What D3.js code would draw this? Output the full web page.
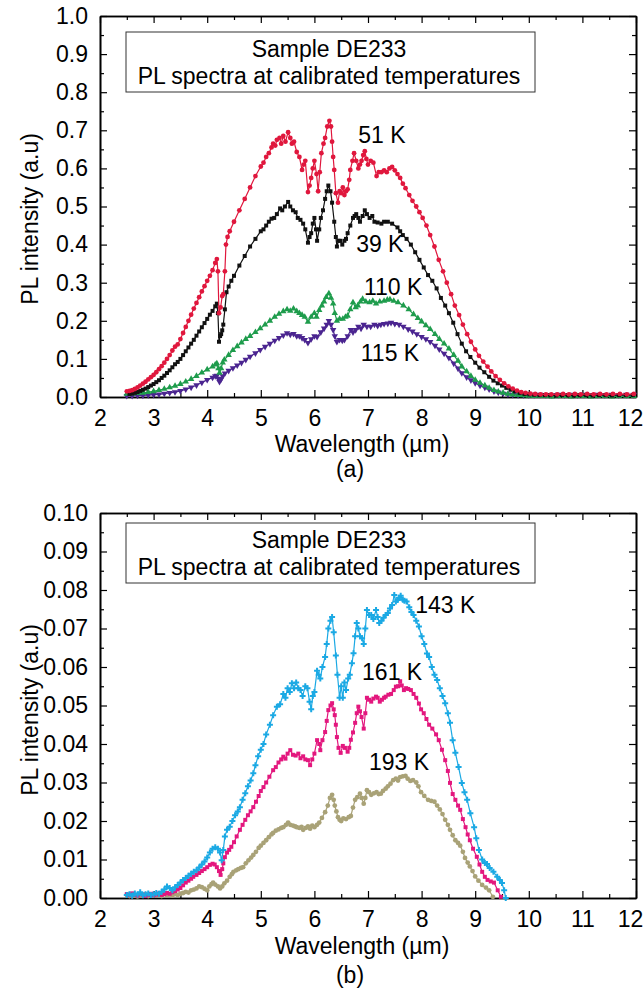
<!DOCTYPE html>
<html>
<head>
<meta charset="utf-8">
<script src="https://cdn.jsdelivr.net/npm/d3@7"></script>
<style>
  body { margin: 0; background: #fff; }
  svg text { font-family: "Liberation Sans", Arial, Helvetica, sans-serif; fill: #000; }
</style>
</head>
<body>
<div id="chart"></div>
<script>
// ---- data: [wavelength (um), PL intensity (a.u)] ----

const xTicks = [2, 3, 4, 5, 6, 7, 8, 9, 10, 11, 12];
const xMinorTicks = [2.5, 3.5, 4.5, 5.5, 6.5, 7.5, 8.5, 9.5, 10.5, 11.5];
const yTicksA = [0, 0.1, 0.2, 0.3, 0.4, 0.5, 0.6, 0.7, 0.8, 0.9, 1.0];
const yTicksB = [0, 0.01, 0.02, 0.03, 0.04, 0.05, 0.06, 0.07, 0.08, 0.09, 0.1];
const legendLines = ["Sample DE233", "PL spectra at calibrated temperatures"];

// panel (a)
const pl51K = [[2.5,0.015],[2.55,0.016],[2.6,0.018],[2.65,0.021],[2.7,0.025],[2.75,0.03],[2.8,0.035],[2.85,0.04],[2.9,0.046],[2.95,0.052],[3.0,0.058],[3.05,0.065],[3.1,0.073],[3.15,0.081],[3.2,0.09],[3.25,0.1],[3.3,0.11],[3.35,0.122],[3.4,0.132],[3.45,0.138],[3.5,0.152],[3.55,0.168],[3.6,0.184],[3.65,0.2],[3.7,0.216],[3.75,0.232],[3.8,0.247],[3.85,0.262],[3.9,0.277],[3.95,0.291],[4.0,0.305],[4.05,0.318],[4.1,0.333],[4.15,0.352],[4.18,0.362],[4.2,0.33],[4.22,0.22],[4.25,0.235],[4.28,0.265],[4.3,0.27],[4.33,0.33],[4.35,0.4],[4.38,0.42],[4.42,0.435],[4.5,0.46],[4.6,0.49],[4.7,0.52],[4.8,0.55],[4.9,0.58],[5.0,0.605],[5.05,0.615],[5.1,0.63],[5.15,0.64],[5.2,0.655],[5.23,0.665],[5.27,0.66],[5.3,0.675],[5.35,0.68],[5.38,0.665],[5.42,0.685],[5.46,0.67],[5.51,0.695],[5.55,0.68],[5.58,0.665],[5.62,0.67],[5.67,0.643],[5.72,0.63],[5.77,0.596],[5.8,0.61],[5.83,0.62],[5.88,0.538],[5.91,0.555],[5.94,0.575],[5.97,0.6],[6.0,0.62],[6.04,0.585],[6.07,0.54],[6.1,0.59],[6.13,0.64],[6.17,0.665],[6.2,0.68],[6.24,0.71],[6.28,0.725],[6.31,0.71],[6.33,0.67],[6.35,0.63],[6.37,0.596],[6.4,0.535],[6.44,0.51],[6.47,0.54],[6.5,0.535],[6.53,0.55],[6.56,0.53],[6.59,0.54],[6.62,0.545],[6.65,0.57],[6.67,0.596],[6.71,0.62],[6.74,0.64],[6.78,0.62],[6.82,0.6],[6.85,0.61],[6.88,0.62],[6.91,0.635],[6.94,0.645],[6.97,0.625],[7.0,0.61],[7.05,0.62],[7.1,0.615],[7.16,0.58],[7.2,0.59],[7.25,0.59],[7.3,0.595],[7.35,0.59],[7.4,0.6],[7.45,0.604],[7.5,0.595],[7.55,0.585],[7.6,0.575],[7.65,0.56],[7.7,0.548],[7.77,0.53],[7.83,0.515],[7.9,0.5],[7.96,0.485],[8.02,0.47],[8.09,0.45],[8.16,0.425],[8.24,0.395],[8.32,0.36],[8.4,0.33],[8.47,0.3],[8.55,0.27],[8.62,0.24],[8.7,0.215],[8.77,0.19],[8.85,0.165],[8.92,0.145],[9.0,0.125],[9.07,0.108],[9.15,0.093],[9.23,0.08],[9.3,0.067],[9.38,0.055],[9.46,0.045],[9.54,0.036],[9.62,0.028],[9.7,0.022],[9.78,0.017],[9.86,0.013],[9.94,0.011],[10.03,0.009],[10.12,0.008],[10.22,0.007],[10.32,0.007],[10.42,0.007],[10.53,0.007],[10.64,0.008],[10.75,0.007],[10.86,0.008],[10.97,0.007],[11.09,0.008],[11.21,0.007],[11.33,0.008],[11.45,0.007],[11.57,0.008],[11.7,0.008],[11.83,0.007],[11.96,0.008]];

const pl39K = [[2.55,0.008],[2.6,0.009],[2.65,0.011],[2.7,0.013],[2.75,0.016],[2.8,0.019],[2.85,0.022],[2.9,0.026],[2.95,0.03],[3.0,0.034],[3.05,0.039],[3.1,0.044],[3.15,0.05],[3.2,0.056],[3.25,0.063],[3.3,0.07],[3.35,0.078],[3.4,0.086],[3.45,0.092],[3.5,0.1],[3.55,0.11],[3.6,0.12],[3.65,0.13],[3.7,0.14],[3.75,0.15],[3.8,0.161],[3.85,0.172],[3.9,0.183],[3.95,0.194],[4.0,0.205],[4.05,0.216],[4.1,0.226],[4.15,0.238],[4.18,0.245],[4.2,0.22],[4.22,0.145],[4.24,0.16],[4.26,0.165],[4.28,0.175],[4.3,0.19],[4.33,0.23],[4.36,0.275],[4.4,0.29],[4.45,0.305],[4.5,0.318],[4.6,0.345],[4.7,0.37],[4.8,0.395],[4.9,0.415],[5.0,0.435],[5.05,0.44],[5.1,0.45],[5.15,0.46],[5.2,0.468],[5.25,0.47],[5.3,0.48],[5.36,0.495],[5.4,0.49],[5.45,0.5],[5.51,0.512],[5.55,0.5],[5.6,0.49],[5.65,0.485],[5.69,0.47],[5.74,0.465],[5.79,0.455],[5.83,0.44],[5.88,0.405],[5.91,0.42],[5.94,0.43],[5.97,0.455],[6.0,0.47],[6.03,0.44],[6.05,0.41],[6.09,0.44],[6.12,0.47],[6.16,0.49],[6.2,0.52],[6.23,0.54],[6.26,0.555],[6.3,0.54],[6.33,0.51],[6.37,0.46],[6.4,0.42],[6.42,0.395],[6.45,0.41],[6.48,0.41],[6.52,0.4],[6.56,0.41],[6.59,0.415],[6.62,0.43],[6.67,0.45],[6.72,0.47],[6.75,0.475],[6.78,0.48],[6.82,0.47],[6.85,0.46],[6.9,0.475],[6.94,0.49],[6.98,0.48],[7.03,0.47],[7.08,0.475],[7.12,0.46],[7.18,0.458],[7.25,0.455],[7.3,0.46],[7.37,0.46],[7.45,0.455],[7.55,0.445],[7.6,0.435],[7.65,0.425],[7.72,0.415],[7.8,0.4],[7.88,0.38],[7.96,0.36],[8.04,0.34],[8.12,0.32],[8.2,0.305],[8.28,0.285],[8.36,0.26],[8.44,0.24],[8.51,0.22],[8.59,0.195],[8.67,0.165],[8.75,0.14],[8.83,0.12],[8.91,0.105],[9.0,0.09],[9.08,0.077],[9.17,0.065],[9.26,0.053],[9.34,0.043],[9.42,0.036],[9.5,0.03],[9.58,0.024],[9.66,0.019],[9.74,0.015],[9.83,0.011],[9.92,0.008],[10.01,0.007],[10.1,0.006],[10.2,0.005],[10.3,0.005],[10.4,0.005],[10.51,0.004],[10.62,0.005],[10.73,0.005],[10.84,0.004],[10.95,0.005],[11.07,0.005],[11.19,0.004],[11.31,0.005],[11.43,0.005],[11.55,0.004],[11.68,0.005],[11.81,0.005],[11.94,0.005]];

const pl110K = [[2.5,0.008],[2.6,0.009],[2.7,0.01],[2.8,0.011],[2.9,0.013],[3.0,0.015],[3.1,0.018],[3.2,0.021],[3.3,0.025],[3.4,0.029],[3.5,0.034],[3.6,0.04],[3.7,0.047],[3.8,0.055],[3.9,0.064],[4.0,0.072],[4.1,0.08],[4.15,0.085],[4.18,0.088],[4.21,0.075],[4.23,0.063],[4.26,0.075],[4.29,0.09],[4.32,0.098],[4.4,0.11],[4.48,0.123],[4.56,0.133],[4.64,0.143],[4.72,0.152],[4.8,0.16],[4.9,0.17],[4.99,0.18],[5.08,0.19],[5.17,0.2],[5.26,0.21],[5.34,0.218],[5.42,0.225],[5.49,0.23],[5.55,0.226],[5.61,0.232],[5.67,0.225],[5.72,0.22],[5.77,0.215],[5.82,0.21],[5.88,0.197],[5.94,0.21],[6.0,0.22],[6.04,0.21],[6.09,0.228],[6.14,0.24],[6.18,0.25],[6.22,0.262],[6.27,0.272],[6.31,0.26],[6.35,0.245],[6.38,0.22],[6.42,0.2],[6.47,0.205],[6.53,0.205],[6.58,0.21],[6.62,0.213],[6.67,0.23],[6.72,0.248],[6.77,0.235],[6.81,0.24],[6.86,0.25],[6.9,0.257],[6.96,0.25],[7.03,0.248],[7.09,0.252],[7.15,0.245],[7.22,0.25],[7.3,0.252],[7.36,0.255],[7.41,0.256],[7.48,0.252],[7.56,0.248],[7.66,0.24],[7.76,0.23],[7.85,0.217],[7.93,0.207],[8.0,0.198],[8.08,0.188],[8.16,0.178],[8.25,0.165],[8.33,0.152],[8.42,0.14],[8.51,0.127],[8.6,0.11],[8.68,0.095],[8.75,0.08],[8.84,0.067],[8.92,0.055],[9.0,0.045],[9.09,0.037],[9.18,0.03],[9.26,0.024],[9.35,0.018],[9.43,0.014],[9.52,0.011],[9.61,0.008],[9.7,0.006],[9.8,0.005],[9.9,0.004],[10.0,0.003],[10.1,0.002],[10.21,0.002],[10.32,0.002],[10.43,0.001],[10.55,0.002],[10.67,0.002],[10.79,0.001],[10.91,0.002],[11.03,0.002],[11.16,0.001],[11.29,0.002],[11.42,0.002],[11.55,0.001],[11.68,0.002],[11.82,0.002],[11.96,0.002]];

const pl115K = [[2.5,0.003],[2.6,0.003],[2.7,0.004],[2.8,0.004],[2.9,0.005],[3.0,0.006],[3.1,0.007],[3.2,0.009],[3.3,0.011],[3.4,0.013],[3.5,0.016],[3.6,0.02],[3.7,0.025],[3.8,0.031],[3.9,0.038],[4.0,0.045],[4.1,0.051],[4.15,0.055],[4.18,0.056],[4.21,0.048],[4.23,0.04],[4.26,0.047],[4.29,0.055],[4.33,0.062],[4.4,0.069],[4.48,0.076],[4.56,0.083],[4.64,0.09],[4.72,0.098],[4.8,0.106],[4.9,0.115],[4.99,0.124],[5.08,0.132],[5.17,0.14],[5.26,0.148],[5.34,0.155],[5.42,0.162],[5.49,0.168],[5.55,0.164],[5.61,0.166],[5.67,0.16],[5.72,0.16],[5.77,0.155],[5.82,0.15],[5.88,0.142],[5.94,0.152],[6.0,0.16],[6.05,0.158],[6.12,0.17],[6.18,0.18],[6.23,0.19],[6.27,0.2],[6.31,0.19],[6.35,0.176],[6.38,0.16],[6.42,0.145],[6.47,0.15],[6.52,0.148],[6.56,0.15],[6.62,0.16],[6.68,0.176],[6.72,0.17],[6.77,0.176],[6.82,0.185],[6.87,0.18],[6.92,0.19],[6.98,0.185],[7.05,0.185],[7.12,0.19],[7.18,0.187],[7.24,0.19],[7.3,0.192],[7.37,0.193],[7.43,0.195],[7.5,0.192],[7.58,0.19],[7.66,0.185],[7.75,0.178],[7.83,0.172],[7.91,0.165],[8.0,0.158],[8.08,0.152],[8.16,0.145],[8.25,0.135],[8.33,0.125],[8.42,0.114],[8.51,0.103],[8.6,0.088],[8.68,0.075],[8.75,0.063],[8.84,0.052],[8.92,0.044],[9.0,0.037],[9.09,0.03],[9.18,0.025],[9.26,0.02],[9.35,0.015],[9.43,0.012],[9.52,0.009],[9.61,0.007],[9.7,0.006],[9.8,0.005],[9.9,0.005],[10.0,0.005],[10.1,0.005],[10.21,0.006],[10.32,0.005],[10.43,0.005],[10.55,0.006],[10.67,0.005],[10.79,0.006],[10.91,0.005],[11.03,0.006],[11.16,0.005],[11.29,0.006],[11.42,0.005],[11.55,0.006],[11.68,0.005],[11.82,0.006],[11.96,0.006]];

// panel (b)
const pl143K = [[2.5,0.0008],[2.55,0.001],[2.6,0.0006],[2.65,0.0012],[2.7,0.0009],[2.75,0.0015],[2.8,0.0007],[2.85,0.001],[2.9,0.0012],[2.95,0.0008],[3.0,0.001],[3.05,0.0013],[3.1,0.0011],[3.15,0.0016],[3.2,0.0022],[3.25,0.003],[3.3,0.0026],[3.35,0.002],[3.4,0.0028],[3.45,0.0034],[3.5,0.004],[3.55,0.0047],[3.6,0.0052],[3.65,0.0058],[3.7,0.0063],[3.75,0.0068],[3.8,0.0072],[3.85,0.0079],[3.9,0.0087],[3.95,0.0095],[4.0,0.0105],[4.05,0.0118],[4.1,0.0128],[4.15,0.0132],[4.2,0.0128],[4.24,0.0118],[4.27,0.0098],[4.3,0.0125],[4.33,0.016],[4.37,0.0177],[4.42,0.0185],[4.47,0.02],[4.52,0.0215],[4.57,0.0225],[4.61,0.0236],[4.66,0.0255],[4.71,0.0272],[4.76,0.029],[4.81,0.0305],[4.86,0.0324],[4.9,0.0345],[4.95,0.0368],[5.0,0.0385],[5.05,0.04],[5.1,0.0425],[5.17,0.045],[5.23,0.0475],[5.3,0.0497],[5.36,0.0503],[5.42,0.053],[5.46,0.052],[5.5,0.0545],[5.54,0.0535],[5.58,0.0558],[5.62,0.0545],[5.66,0.056],[5.7,0.0545],[5.74,0.054],[5.78,0.0525],[5.83,0.055],[5.87,0.0545],[5.91,0.051],[5.94,0.049],[5.97,0.0525],[6.0,0.0535],[6.05,0.059],[6.08,0.058],[6.11,0.057],[6.15,0.06],[6.2,0.0626],[6.23,0.066],[6.26,0.07],[6.3,0.072],[6.33,0.073],[6.36,0.069],[6.4,0.063],[6.43,0.058],[6.47,0.052],[6.5,0.055],[6.53,0.052],[6.56,0.056],[6.59,0.054],[6.63,0.057],[6.66,0.058],[6.7,0.061],[6.73,0.0636],[6.76,0.068],[6.79,0.0714],[6.82,0.07],[6.85,0.068],[6.89,0.0675],[6.92,0.066],[6.95,0.07],[6.98,0.0748],[7.02,0.0735],[7.06,0.0735],[7.1,0.0725],[7.15,0.0748],[7.18,0.073],[7.21,0.0714],[7.25,0.072],[7.29,0.0728],[7.33,0.0735],[7.37,0.074],[7.41,0.0752],[7.45,0.0761],[7.49,0.0787],[7.52,0.077],[7.55,0.0774],[7.58,0.078],[7.61,0.0785],[7.65,0.0775],[7.68,0.0772],[7.72,0.077],[7.77,0.0755],[7.81,0.0743],[7.85,0.0735],[7.9,0.072],[7.95,0.0705],[8.0,0.068],[8.05,0.066],[8.1,0.0635],[8.14,0.0626],[8.19,0.06],[8.24,0.058],[8.29,0.0566],[8.34,0.0545],[8.39,0.0525],[8.44,0.0506],[8.49,0.048],[8.53,0.0455],[8.58,0.041],[8.63,0.0377],[8.69,0.034],[8.75,0.0299],[8.8,0.0275],[8.85,0.0255],[8.91,0.022],[8.98,0.0184],[9.02,0.0155],[9.07,0.0125],[9.13,0.01],[9.18,0.0091],[9.22,0.0088],[9.27,0.0078],[9.34,0.0068],[9.41,0.0055],[9.46,0.0047],[9.5,0.0039],[9.54,0.002],[9.57,0.0]];

const pl161K = [[2.5,0.001],[2.55,0.0007],[2.6,0.0012],[2.65,0.0008],[2.7,0.0006],[2.75,0.001],[2.8,0.0009],[2.85,0.0005],[2.9,0.0008],[2.95,0.0011],[3.0,0.0007],[3.05,0.0009],[3.1,0.0012],[3.15,0.0008],[3.2,0.001],[3.25,0.0013],[3.3,0.0011],[3.35,0.0015],[3.4,0.0018],[3.45,0.0022],[3.5,0.0026],[3.55,0.0033],[3.6,0.004],[3.65,0.0045],[3.7,0.005],[3.74,0.0055],[3.8,0.006],[3.85,0.0065],[3.9,0.007],[3.95,0.0075],[4.0,0.008],[4.05,0.0086],[4.1,0.0089],[4.14,0.0087],[4.18,0.008],[4.22,0.007],[4.25,0.006],[4.28,0.0075],[4.3,0.009],[4.33,0.0106],[4.37,0.0118],[4.41,0.0125],[4.45,0.0133],[4.5,0.0145],[4.55,0.016],[4.61,0.0177],[4.66,0.019],[4.71,0.0203],[4.76,0.0215],[4.81,0.0225],[4.86,0.0236],[4.91,0.025],[4.96,0.0265],[5.0,0.0278],[5.05,0.0288],[5.1,0.03],[5.16,0.0315],[5.23,0.0332],[5.28,0.034],[5.33,0.0352],[5.38,0.036],[5.42,0.0367],[5.46,0.0362],[5.5,0.0375],[5.55,0.0384],[5.6,0.0372],[5.65,0.037],[5.7,0.0375],[5.74,0.0363],[5.79,0.0368],[5.83,0.036],[5.88,0.0358],[5.92,0.0345],[5.96,0.036],[6.0,0.0375],[6.05,0.041],[6.09,0.04],[6.11,0.0384],[6.15,0.041],[6.2,0.0431],[6.23,0.046],[6.26,0.0488],[6.3,0.05],[6.33,0.0506],[6.36,0.049],[6.38,0.0475],[6.4,0.045],[6.42,0.0418],[6.45,0.039],[6.49,0.0377],[6.53,0.0395],[6.57,0.039],[6.62,0.038],[6.65,0.039],[6.68,0.0411],[6.72,0.043],[6.76,0.0455],[6.79,0.048],[6.82,0.0497],[6.85,0.0485],[6.88,0.047],[6.92,0.044],[6.95,0.048],[6.98,0.052],[7.02,0.0515],[7.06,0.051],[7.1,0.0518],[7.15,0.0523],[7.18,0.052],[7.22,0.051],[7.26,0.0515],[7.3,0.052],[7.33,0.0523],[7.38,0.0528],[7.43,0.053],[7.48,0.054],[7.52,0.0549],[7.56,0.055],[7.6,0.0563],[7.63,0.0552],[7.67,0.054],[7.71,0.0545],[7.75,0.0543],[7.8,0.054],[7.85,0.053],[7.9,0.052],[7.95,0.0505],[7.99,0.049],[8.04,0.048],[8.09,0.0465],[8.14,0.045],[8.2,0.044],[8.27,0.0425],[8.32,0.041],[8.38,0.0385],[8.44,0.0358],[8.49,0.033],[8.53,0.0299],[8.58,0.027],[8.63,0.0255],[8.68,0.024],[8.72,0.0229],[8.77,0.0205],[8.82,0.0184],[8.86,0.0165],[8.9,0.015],[8.96,0.0128],[9.03,0.0107],[9.08,0.0087],[9.13,0.0068],[9.18,0.0055],[9.23,0.0047],[9.29,0.0043],[9.35,0.004],[9.42,0.002],[9.48,0.0003]];

const pl193K = [[2.5,0.0008],[2.55,0.0005],[2.6,0.001],[2.65,0.0007],[2.7,0.0004],[2.75,0.0009],[2.8,0.0006],[2.85,0.001],[2.9,0.0005],[2.95,0.0008],[3.0,0.0006],[3.05,0.0009],[3.1,0.0007],[3.15,0.0005],[3.2,0.001],[3.25,0.0007],[3.3,0.0009],[3.35,0.0006],[3.4,0.001],[3.45,0.0008],[3.5,0.0011],[3.55,0.0013],[3.6,0.0016],[3.65,0.0014],[3.7,0.002],[3.75,0.0022],[3.8,0.0025],[3.85,0.003],[3.9,0.0028],[3.95,0.0024],[4.0,0.002],[4.04,0.003],[4.08,0.0036],[4.11,0.004],[4.15,0.0035],[4.2,0.003],[4.24,0.0025],[4.28,0.003],[4.32,0.0038],[4.37,0.0045],[4.42,0.0055],[4.46,0.0062],[4.49,0.0068],[4.54,0.0072],[4.58,0.0075],[4.63,0.0078],[4.67,0.008],[4.72,0.009],[4.77,0.0098],[4.82,0.0105],[4.86,0.0112],[4.91,0.012],[4.96,0.013],[5.0,0.0136],[5.05,0.0143],[5.1,0.015],[5.15,0.0158],[5.2,0.0165],[5.23,0.0169],[5.28,0.0175],[5.33,0.0178],[5.38,0.0182],[5.42,0.0184],[5.47,0.019],[5.51,0.0196],[5.55,0.019],[5.6,0.0188],[5.64,0.0186],[5.67,0.0184],[5.72,0.0182],[5.76,0.0185],[5.79,0.0177],[5.84,0.0182],[5.88,0.0186],[5.92,0.018],[5.96,0.0188],[6.0,0.0184],[6.05,0.019],[6.09,0.0196],[6.14,0.0208],[6.2,0.0223],[6.25,0.024],[6.29,0.026],[6.33,0.0268],[6.36,0.0255],[6.38,0.024],[6.41,0.0225],[6.44,0.021],[6.47,0.0203],[6.5,0.02],[6.54,0.0207],[6.59,0.0205],[6.64,0.021],[6.68,0.0213],[6.72,0.0235],[6.76,0.0255],[6.8,0.0262],[6.85,0.0271],[6.88,0.026],[6.92,0.0245],[6.95,0.026],[6.98,0.028],[7.02,0.0275],[7.06,0.0268],[7.11,0.0272],[7.16,0.0275],[7.2,0.027],[7.24,0.0271],[7.28,0.0278],[7.33,0.0284],[7.37,0.029],[7.42,0.0297],[7.47,0.0306],[7.52,0.031],[7.56,0.0305],[7.6,0.0314],[7.65,0.0316],[7.7,0.0317],[7.74,0.031],[7.79,0.0304],[7.84,0.0306],[7.9,0.03],[7.94,0.029],[7.99,0.0275],[8.05,0.0265],[8.12,0.0255],[8.18,0.0252],[8.24,0.025],[8.29,0.024],[8.34,0.023],[8.39,0.0218],[8.44,0.0203],[8.49,0.019],[8.53,0.0177],[8.58,0.0163],[8.63,0.015],[8.68,0.0143],[8.72,0.0136],[8.77,0.012],[8.81,0.0104],[8.86,0.0092],[8.9,0.0082],[8.95,0.007],[9.0,0.0056],[9.06,0.0045],[9.13,0.0034],[9.2,0.0027],[9.26,0.002],[9.33,0.0003]];

// series labels: [text, wavelength, intensity] where the label sits (baseline, centred)
const labelsA = [["51 K", 7.26, 0.667], ["39 K", 7.22, 0.381], ["110 K", 7.47, 0.268], ["115 K", 7.41, 0.094]];
const labelsB = [["143 K", 8.44, 0.074], ["161 K", 7.45, 0.0566], ["193 K", 7.58, 0.0332]];

// ---- drawing ----
const W = 644, H = 992;
const fontSize = 23;

const svg = d3.select("#chart").append("svg").
  attr("width", W).
  attr("height", H);

const drawPanel = function (p) {
  const x = d3.scaleLinear().domain([2, 12]).range([100, 636]);
  const y = d3.scaleLinear().domain([0, p.yMax]).range([p.bottom, p.top]);
  const yMinor = p.yTicks.slice(0, -1).map(v => v + p.yMax / 20);

  const g = svg.append("g");

  // axes: ticks point inward on all four sides
  const axes = [
    [d3.axisBottom(x).tickValues(xTicks).tickSize(-7).tickPadding(13).tickFormat(d3.format("d")), `translate(0,${p.bottom})`],
    [d3.axisBottom(x).tickValues(xMinorTicks).tickSize(-4).tickFormat(""), `translate(0,${p.bottom})`],
    [d3.axisTop(x).tickValues(xTicks).tickSize(-7).tickFormat(""), `translate(0,${p.top})`],
    [d3.axisTop(x).tickValues(xMinorTicks).tickSize(-4).tickFormat(""), `translate(0,${p.top})`],
    [d3.axisLeft(y).tickValues(p.yTicks).tickSize(-7).tickPadding(12).tickFormat(d3.format(p.yFormat)), "translate(100,0)"],
    [d3.axisLeft(y).tickValues(yMinor).tickSize(-4).tickFormat(""), "translate(100,0)"],
    [d3.axisRight(y).tickValues(p.yTicks).tickSize(-7).tickFormat(""), "translate(636,0)"],
    [d3.axisRight(y).tickValues(yMinor).tickSize(-4).tickFormat(""), "translate(636,0)"]
  ];
  axes.forEach(([ax, tr]) => {
    const a = g.append("g").attr("transform", tr).call(ax.tickSizeOuter(0));
    a.attr("font-family", null).attr("font-size", null);
    a.select(".domain").attr("stroke", "#000").attr("stroke-width", 1.6);
    a.selectAll(".tick line").attr("stroke", "#000").attr("stroke-width", 1.2);
    a.selectAll(".tick text").style("font-size", `${fontSize}px`);
  });
  // the last x label sits tight against the right edge, as in the original
  g.selectAll(".tick text").filter(d => d === 12).attr("dx", -6);

  // legend box
  g.append("rect").
    attr("x", 126).
    attr("y", p.top + p.legendOffset).
    attr("width", 409).
    attr("height", 60).
    attr("fill", "#fff").
    attr("stroke", "#333").
    attr("stroke-width", 1);
  g.selectAll(".legend-line").
    data(legendLines).
    join("text").
    attr("x", 329).
    attr("y", (d, i) => p.top + p.legendOffset + 25 + i * 27).
    attr("text-anchor", "middle").
    style("font-size", `${fontSize}px`).
    text(d => d);

  // series: line + markers
  const line = d3.line().x(d => x(d[0])).y(d => y(d[1]));
  p.series.forEach(s => {
    g.append("path").
      datum(s.data).
      attr("d", line).
      attr("fill", "none").
      attr("stroke", s.color).
      attr("stroke-width", 1.2);
    const sym = d3.symbol().type(s.symbol).size(s.size);
    g.append("g").
      selectAll("path").
      data(s.data).
      join("path").
      attr("transform", d => `translate(${x(d[0])},${y(d[1])})${s.flip ? " rotate(180)" : ""}`).
      attr("d", sym).
      attr("fill", s.color);
  });

  // temperature labels
  g.selectAll(".temp-label").
    data(p.labels).
    join("text").
    attr("x", d => x(d[1])).
    attr("y", d => y(d[2])).
    attr("text-anchor", "middle").
    style("font-size", `${fontSize}px`).
    text(d => d[0]);

  // axis titles and caption
  g.append("text").
    attr("transform", `translate(38,${p.yTitleY}) rotate(-90)`).
    attr("text-anchor", "middle").
    style("font-size", `${fontSize}px`).
    text("PL intensity (a.u)");
  g.append("text").
    attr("x", 362).
    attr("y", p.bottom + p.xTitleGap).
    attr("text-anchor", "middle").
    style("font-size", `${fontSize}px`).
    text("Wavelength (\u00b5m)");
  g.append("text").
    attr("x", 350).
    attr("y", p.bottom + p.captionGap).
    attr("text-anchor", "middle").
    style("font-size", `${fontSize}px`).
    text(p.caption);
};

drawPanel({
  top: 16, bottom: 397, yMax: 1.0, yTicks: yTicksA, yFormat: ".1f",
  legendOffset: 16, yTitleY: 219, xTitleGap: 55, captionGap: 80, caption: "(a)",
  labels: labelsA,
  series: [
    { data: pl115K, color: "#4b2590", symbol: d3.symbolTriangle, size: 18, flip: true },
    { data: pl110K, color: "#1e9c4c", symbol: d3.symbolTriangle, size: 18 },
    { data: pl39K, color: "#111111", symbol: d3.symbolSquare, size: 16 },
    { data: pl51K, color: "#e0173d", symbol: d3.symbolCircle, size: 18 }
  ]
});

drawPanel({
  top: 513, bottom: 898, yMax: 0.1, yTicks: yTicksB, yFormat: ".2f",
  legendOffset: 10, yTitleY: 710, xTitleGap: 56, captionGap: 85, caption: "(b)",
  labels: labelsB,
  series: [
    { data: pl193K, color: "#a9a277", symbol: d3.symbolCircle, size: 18 },
    { data: pl161K, color: "#e3177e", symbol: d3.symbolSquare, size: 16 },
    { data: pl143K, color: "#1ba9e4", symbol: d3.symbolCross, size: 20 }
  ]
});
</script>
</body>
</html>
